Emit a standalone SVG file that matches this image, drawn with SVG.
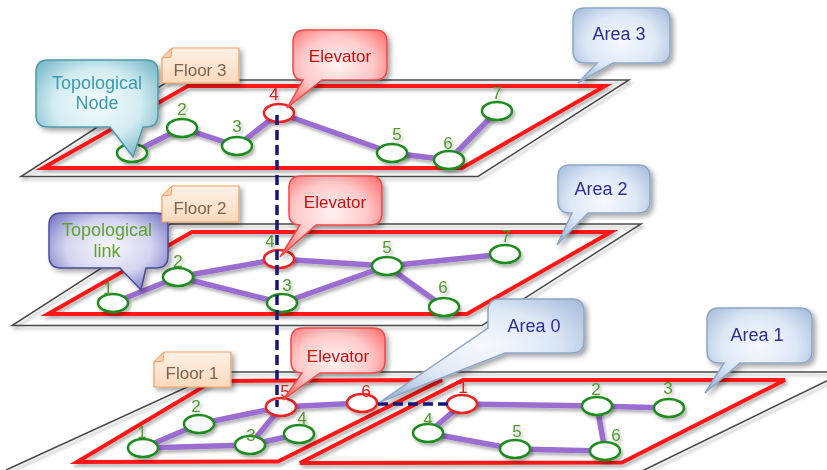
<svg xmlns="http://www.w3.org/2000/svg" width="827" height="470" viewBox="0 0 827 470">
<defs>
<style>
.gray{fill:none;stroke:#4a4a4a;stroke-width:1.5}
.red{fill:none;stroke:#ff1414;stroke-width:4;stroke-linejoin:miter}
.edge{stroke:#9b6dd0;stroke-width:5.5;fill:none}
.node{fill:#fff;stroke:#1e8c1e;stroke-width:2.5}
.enode{fill:#fff;stroke:#ee2020;stroke-width:2.5}
.nl{font-family:"Liberation Sans",Arial,sans-serif;font-size:17px;fill:#4f9a2c;text-anchor:middle}
.rl{fill:#e02020}
.elev{stroke:#15157a;stroke-width:3.5;stroke-dasharray:10 5;fill:none}
.ct{font-family:"Liberation Sans",Arial,sans-serif;font-size:18px;text-anchor:middle}
.floor{fill:url(#gPeach);stroke:#f0a060;stroke-width:1.2}
.flap{fill:#f9d3b2;stroke:#f0a060;stroke-width:1}
.ftxt{fill:#7a6450;font-size:17px}
.area{fill:url(#gBlue);stroke:#8ea6c6;stroke-width:1.5}
.atxt{fill:#2d2d96}
.elv{fill:url(#gPink);stroke:#f04848;stroke-width:1.5}
.etxt{fill:#c81010;font-size:17px}
</style>
<filter id="sh" x="-20%" y="-20%" width="150%" height="160%">
<feDropShadow dx="3" dy="3" stdDeviation="2.5" flood-color="#000" flood-opacity="0.35"/>
</filter>
<filter id="shs" x="-10%" y="-10%" width="120%" height="130%">
<feDropShadow dx="2" dy="3" stdDeviation="1.8" flood-color="#000" flood-opacity="0.28"/>
</filter>
<radialGradient id="gTeal" cx="50%" cy="45%" r="65%">
<stop offset="0" stop-color="#f4fbfc"/><stop offset="0.55" stop-color="#d3ecf1"/><stop offset="1" stop-color="#6fb5c6"/>
</radialGradient>
<radialGradient id="gLav" cx="50%" cy="45%" r="65%">
<stop offset="0" stop-color="#f6f6fd"/><stop offset="0.55" stop-color="#d4d6f1"/><stop offset="1" stop-color="#6e6ec0"/>
</radialGradient>
<radialGradient id="gPink" cx="50%" cy="45%" r="65%">
<stop offset="0" stop-color="#fff2f2"/><stop offset="0.55" stop-color="#ffc9c9"/><stop offset="1" stop-color="#ff6c6c"/>
</radialGradient>
<radialGradient id="gBlue" cx="50%" cy="45%" r="65%">
<stop offset="0" stop-color="#f6f9fd"/><stop offset="0.55" stop-color="#dde8f6"/><stop offset="1" stop-color="#a3bbda"/>
</radialGradient>
<linearGradient id="gPeach" x1="0" y1="0" x2="0" y2="1">
<stop offset="0" stop-color="#fef1e6"/><stop offset="1" stop-color="#fcd9bc"/>
</linearGradient>
</defs>
<rect width="827" height="470" fill="#fff"/>

<g id="floors" filter="url(#shs)">
<path class="gray" d="M170,80 L629,80 L478,176.5 L21,176.5 Z"/>
<path class="red" d="M188,86 L605,86 L462,168 L43,168 Z"/>
<path class="gray" d="M170,224 L641,224 L482,325.5 L12,325.5 Z"/>
<path class="red" d="M192,232 L611,232 L467,314 L48,314 Z"/>
<path class="gray" d="M6,470 L220,372 L845,372 L640,472"/>
<path class="red" d="M213,381 L442,380 L278,461.5 L77,462 Z"/>
<path class="red" d="M463,380 L785,380 L622,462.5 L300,463 Z"/>
</g>

<g id="connectors" filter="url(#shs)">
<line class="edge" x1="132" y1="153" x2="182" y2="128"/>
<line class="edge" x1="182" y1="128" x2="237" y2="146"/>
<line class="edge" x1="237" y1="146" x2="279" y2="113"/>
<line class="edge" x1="279" y1="113" x2="392" y2="153"/>
<line class="edge" x1="392" y1="153" x2="449" y2="160"/>
<line class="edge" x1="449" y1="160" x2="497" y2="111"/>
<line class="edge" x1="113" y1="303" x2="178" y2="277"/>
<line class="edge" x1="178" y1="277" x2="279" y2="259"/>
<line class="edge" x1="178" y1="277" x2="282" y2="303"/>
<line class="edge" x1="279" y1="259" x2="387" y2="266"/>
<line class="edge" x1="282" y1="303" x2="387" y2="266"/>
<line class="edge" x1="387" y1="266" x2="505" y2="254"/>
<line class="edge" x1="387" y1="266" x2="444" y2="307"/>
<line class="edge" x1="143" y1="448" x2="199" y2="424"/>
<line class="edge" x1="143" y1="448" x2="250" y2="445"/>
<line class="edge" x1="199" y1="424" x2="281" y2="407"/>
<line class="edge" x1="250" y1="445" x2="281" y2="407"/>
<line class="edge" x1="250" y1="445" x2="299" y2="434"/>
<line class="edge" x1="281" y1="407" x2="362" y2="403"/>
<line class="edge" x1="462" y1="404" x2="597" y2="406"/>
<line class="edge" x1="597" y1="406" x2="669" y2="408"/>
<line class="edge" x1="462" y1="404" x2="428" y2="433"/>
<line class="edge" x1="428" y1="433" x2="515" y2="449"/>
<line class="edge" x1="515" y1="449" x2="605" y2="451"/>
<line class="edge" x1="597" y1="406" x2="605" y2="451"/>
</g>

<g id="nodes" filter="url(#shs)">
<g id="f3-n1"><ellipse class="node" cx="132" cy="153" rx="15" ry="9"/><text class="nl" x="133" y="148">1</text></g>
<g id="f3-n2"><ellipse class="node" cx="182" cy="128" rx="15" ry="9"/><text class="nl" x="182" y="115">2</text></g>
<g id="f3-n3"><ellipse class="node" cx="237" cy="146" rx="15" ry="9"/><text class="nl" x="237" y="132">3</text></g>
<g id="f3-n4"><ellipse class="enode" cx="279" cy="113" rx="15" ry="9"/><text class="nl rl" x="274" y="100">4</text></g>
<g id="f3-n5"><ellipse class="node" cx="392" cy="153" rx="15" ry="9"/><text class="nl" x="397" y="140">5</text></g>
<g id="f3-n6"><ellipse class="node" cx="449" cy="160" rx="15" ry="9"/><text class="nl" x="448" y="149">6</text></g>
<g id="f3-n7"><ellipse class="node" cx="497" cy="111" rx="15" ry="9"/><text class="nl" x="497" y="99">7</text></g>

<g id="f2-n1"><ellipse class="node" cx="113" cy="303" rx="15" ry="9"/><text class="nl" x="108" y="294">1</text></g>
<g id="f2-n2"><ellipse class="node" cx="178" cy="277" rx="15" ry="9"/><text class="nl" x="178" y="267">2</text></g>
<g id="f2-n3"><ellipse class="node" cx="282" cy="303" rx="15" ry="9"/><text class="nl" x="287" y="291">3</text></g>
<g id="f2-n4"><ellipse class="enode" cx="279" cy="259" rx="15" ry="9"/><text class="nl" x="270" y="247">4</text></g>
<g id="f2-n5"><ellipse class="node" cx="387" cy="266" rx="15" ry="9"/><text class="nl" x="387" y="253">5</text></g>
<g id="f2-n6"><ellipse class="node" cx="444" cy="307" rx="15" ry="9"/><text class="nl" x="443" y="293">6</text></g>
<g id="f2-n7"><ellipse class="node" cx="505" cy="254" rx="15" ry="9"/><text class="nl" x="506" y="242">7</text></g>

<g id="a0-n1"><ellipse class="node" cx="143" cy="448" rx="15" ry="9"/><text class="nl" x="142" y="438">1</text></g>
<g id="a0-n2"><ellipse class="node" cx="199" cy="424" rx="15" ry="9"/><text class="nl" x="196" y="412">2</text></g>
<g id="a0-n3"><ellipse class="node" cx="250" cy="445" rx="15" ry="9"/><text class="nl" x="251" y="441">3</text></g>
<g id="a0-n4"><ellipse class="node" cx="299" cy="434" rx="15" ry="9"/><text class="nl" x="302" y="424">4</text></g>
<g id="a0-n5"><ellipse class="enode" cx="281" cy="407" rx="15" ry="9"/><text class="nl rl" x="285" y="397">5</text></g>
<g id="a0-n6"><ellipse class="enode" cx="362" cy="403" rx="15" ry="9"/><text class="nl rl" x="366" y="397">6</text></g>

<g id="a1-n1"><ellipse class="enode" cx="462" cy="404" rx="15" ry="9"/><text class="nl rl" x="463" y="393">1</text></g>
<g id="a1-n2"><ellipse class="node" cx="597" cy="406" rx="15" ry="9"/><text class="nl" x="596" y="395">2</text></g>
<g id="a1-n3"><ellipse class="node" cx="669" cy="408" rx="15" ry="9"/><text class="nl" x="668" y="394">3</text></g>
<g id="a1-n4"><ellipse class="node" cx="428" cy="433" rx="15" ry="9"/><text class="nl" x="428" y="425">4</text></g>
<g id="a1-n5"><ellipse class="node" cx="515" cy="449" rx="15" ry="9"/><text class="nl" x="517" y="437">5</text></g>
<g id="a1-n6"><ellipse class="node" cx="605" cy="451" rx="15" ry="9"/><text class="nl" x="616" y="441">6</text></g>
</g>

<g id="elevator-links">
<line class="elev" x1="277" y1="115" x2="277" y2="407"/>
<line class="elev" x1="378" y1="404" x2="448" y2="404"/>
</g>

<g id="callouts" filter="url(#sh)">
<g id="callout-topo-node">
<path fill="url(#gTeal)" stroke="#4f98aa" stroke-width="1.5" d="M48,60 H146 Q158,60 158,72 V115 Q158,127 146,127 H143 L133,157 L110,127 H48 Q36,127 36,115 V72 Q36,60 48,60 Z"/>
<text class="ct" fill="#3a9aae" x="97" y="89">Topological</text>
<text class="ct" fill="#3a9aae" x="97" y="109">Node</text>
</g>
<g id="callout-topo-link">
<path fill="url(#gLav)" stroke="#4a4a9a" stroke-width="1.5" d="M61,213 H156 Q168,213 168,225 V256 Q168,268 156,268 H146 L141,290 L120,268 H61 Q49,268 49,256 V225 Q49,213 61,213 Z"/>
<text class="ct" fill="#5f9f2a" x="107" y="236">Topological</text>
<text class="ct" fill="#5f9f2a" x="107" y="257">link</text>
</g>
<g id="label-floor3">
<path class="floor" d="M172,48 H239 V83 H162 V58 Z"/><path class="flap" d="M162,58 L172,48 L171,57 Z"/>
<text class="ct ftxt" x="200" y="76">Floor 3</text>
</g>
<g id="label-floor2">
<path class="floor" d="M172,186 H239 V222 H162 V196 Z"/><path class="flap" d="M162,196 L172,186 L171,195 Z"/>
<text class="ct ftxt" x="200" y="214">Floor 2</text>
</g>
<g id="label-floor1">
<path class="floor" d="M164,352 H231 V387 H154 V362 Z"/><path class="flap" d="M154,362 L164,352 L163,361 Z"/>
<text class="ct ftxt" x="192" y="379">Floor 1</text>
</g>
<g id="callout-elevator3">
<path class="elv" d="M305,30 H375 Q387,30 387,42 V68 Q387,80 375,80 H322 L287,108 L303,80 Q293,80 293,68 V42 Q293,30 305,30 Z"/>
<text class="ct etxt" x="340" y="62">Elevator</text>
</g>
<g id="callout-elevator2">
<path class="elv" d="M301,176 H370 Q382,176 382,188 V213 Q382,225 370,225 H316 L280,257 L300,225 Q289,225 289,213 V188 Q289,176 301,176 Z"/>
<text class="ct etxt" x="335" y="208">Elevator</text>
</g>
<g id="callout-elevator1">
<path class="elv" d="M303,328 H373 Q385,328 385,340 V361 Q385,373 373,373 H320 L283,400 L302,373 Q291,373 291,361 V340 Q291,328 303,328 Z"/>
<text class="ct etxt" x="338" y="362">Elevator</text>
</g>
<g id="callout-area3">
<path class="area" d="M585,8 H658 Q670,8 670,20 V51 Q670,63 658,63 H613 L578,83 L597,63 H585 Q573,63 573,51 V20 Q573,8 585,8 Z"/>
<text class="ct atxt" x="619" y="40">Area 3</text>
</g>
<g id="callout-area2">
<path class="area" d="M570,165 H638 Q650,165 650,177 V201 Q650,213 638,213 H588 L557,245 L572,213 H570 Q558,213 558,201 V177 Q558,165 570,165 Z"/>
<text class="ct atxt" x="601" y="195">Area 2</text>
</g>
<g id="callout-area0">
<path class="area" d="M500,299 H572 Q584,299 584,311 V341 Q584,353 572,353 H505 L380,402 L488,328 V311 Q488,299 500,299 Z"/>
<text class="ct atxt" x="534" y="332">Area 0</text>
</g>
<g id="callout-area1">
<path class="area" d="M719,308 H800 Q812,308 812,320 V351 Q812,363 800,363 H740 L705,393 L724,363 H719 Q707,363 707,351 V320 Q707,308 719,308 Z"/>
<text class="ct atxt" x="757" y="341">Area 1</text>
</g>
</g>
</svg>
